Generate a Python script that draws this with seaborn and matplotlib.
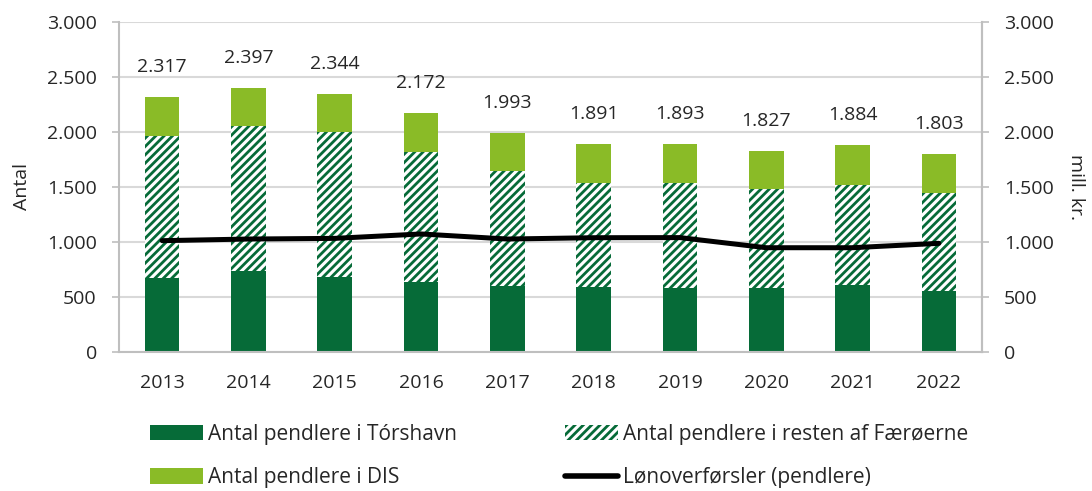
import matplotlib
matplotlib.use("Agg")
import matplotlib.pyplot as plt
import numpy as np
import pandas as pd
import seaborn as sns
from matplotlib.lines import Line2D
from matplotlib.patches import Patch
from matplotlib.ticker import FuncFormatter

years = ["2013", "2014", "2015", "2016", "2017", "2018", "2019", "2020", "2021", "2022"]
torshavn = [673, 736, 679, 633, 600, 591, 585, 582, 609, 558]
resten = [1291, 1319, 1324, 1188, 1048, 948, 948, 900, 909, 890]
dis = [353, 342, 341, 351, 345, 352, 360, 345, 366, 355]
lon = [1012, 1027, 1033, 1073, 1027, 1039, 1040, 948, 948, 988]

DARK = "#066B38"
LIGHT = "#8ABB27"
GRID = "#D9D9D9"
SPINE = "#BFBFBF"
TXT = "#262626"

df = pd.DataFrame({"year": years, "torshavn": torshavn, "resten": resten, "dis": dis, "lon": lon})
df["lower2"] = df["torshavn"] + df["resten"]
df["total"] = df["lower2"] + df["dis"]

sns.set_theme(style="white")
plt.rcParams["font.family"] = ["Open Sans", "DejaVu Sans"]
plt.rcParams["hatch.linewidth"] = 2.0
plt.rcParams["hatch.color"] = DARK

fig = plt.figure(figsize=(10.92, 4.91), dpi=100)
ax = fig.add_axes([119 / 1092, 1 - 352 / 491, (982 - 119) / 1092, 330 / 491])

# stacked look: draw cumulative totals from tallest to shortest
sns.barplot(data=df, x="year", y="total", color=LIGHT, saturation=1, width=0.4,
            linewidth=0, ax=ax, zorder=2)
sns.barplot(data=df, x="year", y="lower2", color="white", saturation=1, width=0.4,
            linewidth=0, hatch="////", edgecolor=DARK, ax=ax, zorder=2)
sns.barplot(data=df, x="year", y="torshavn", color=DARK, saturation=1, width=0.4,
            linewidth=0, ax=ax, zorder=2)
for p in ax.patches[len(years):2 * len(years)]:
    p.set_edgecolor(DARK)
    p.set_linewidth(0)

ax.bar_label(ax.containers[0], labels=[f"{v:,}".replace(",", ".") for v in df["total"]],
             padding=15, fontsize=14, color=TXT)

fmt = FuncFormatter(lambda v, _: f"{int(v):,}".replace(",", "."))
ax.set_ylim(0, 3000)
ax.set_yticks(range(0, 3001, 500))
ax.yaxis.set_major_formatter(fmt)
ax.set_xlim(-0.5, len(years) - 0.5)
ax.set_xlabel("")
ax.set_ylabel("Antal", fontsize=14, color=TXT, labelpad=11)
ax.yaxis.grid(True, color=GRID, linewidth=1.5, zorder=0)
ax.set_axisbelow(True)
ax.tick_params(axis="y", length=5, width=1.2, color=SPINE, labelsize=14, labelcolor=TXT, pad=11)
ax.tick_params(axis="x", length=0, labelsize=14, labelcolor=TXT, pad=16)
ax.spines["top"].set_visible(False)
for side in ["left", "bottom", "right"]:
    ax.spines[side].set_color(SPINE)
    ax.spines[side].set_linewidth(1.5)

ax2 = ax.twinx()
sns.lineplot(x=np.arange(len(years)), y=df["lon"], color="black", linewidth=3.6, ax=ax2, zorder=3)
ax2.set_ylim(0, 3000)
ax2.set_yticks(range(0, 3001, 500))
ax2.yaxis.set_major_formatter(fmt)
ax2.set_ylabel("mill. kr.", fontsize=14, color=TXT, rotation=270, labelpad=22)
ax2.tick_params(axis="y", length=5, width=1.2, color=SPINE, labelsize=14, labelcolor=TXT, pad=11)
for side in ["top", "left", "bottom"]:
    ax2.spines[side].set_visible(False)
ax2.spines["right"].set_color(SPINE)
ax2.spines["right"].set_linewidth(1.5)

handles = [
    Patch(facecolor=DARK, edgecolor="none", label="Antal pendlere i Tórshavn"),
    Patch(facecolor=LIGHT, edgecolor="none", label="Antal pendlere i DIS"),
    Patch(facecolor="white", edgecolor=DARK, linewidth=0, hatch="////", label="Antal pendlere i resten af Færøerne"),
    Line2D([0], [0], color="black", linewidth=4, label="Lønoverførsler (pendlere)"),
]
fig.legend(handles=handles, ncol=2, loc="center left", bbox_to_anchor=(150 / 1092, 1 - 456 / 491),
           frameon=False, fontsize=15, handlelength=2.55, handleheight=0.75, handletextpad=0.25,
           columnspacing=5.15, labelspacing=1.08, borderaxespad=0, borderpad=0,
           labelcolor=TXT)

fig.savefig("out.png", dpi=100)
plt.close(fig)
